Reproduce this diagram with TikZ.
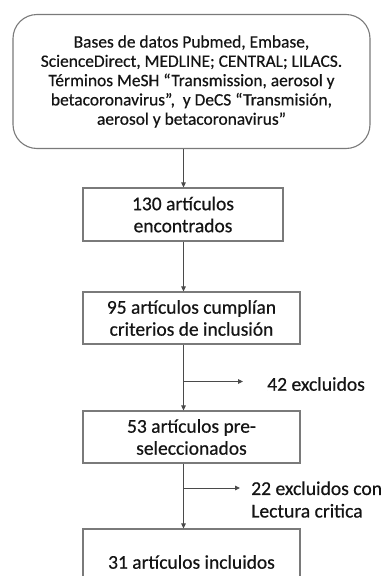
\documentclass[tikz,border=0pt]{standalone}
\usepackage{fontspec}
\setmainfont{Carlito}[FakeBold=0.5]
\usetikzlibrary{arrows.meta}
\definecolor{boxline}{HTML}{7A7A7A}
\definecolor{conline}{HTML}{4A4A4A}
\definecolor{txt}{HTML}{141414}
\begin{document}
\begin{tikzpicture}[x=1pt,y=-1pt,
  every node/.style={text=txt, inner sep=0pt},
  srcbox/.style={draw=boxline, line width=1.1pt, rounded corners=24pt, align=center,
    font=\fontsize{17.4}{19.3}\selectfont},
  stepbox/.style={draw=boxline, line width=1.1pt, align=center,
    font=\fontsize{19.5}{22}\selectfont},
  sidetext/.style={anchor=west, align=left, font=\fontsize{19.6}{22.5}\selectfont},
  arr/.style={draw=conline, line width=0.9pt, -{Triangle[length=5pt,width=4.5pt]}}]
\useasboundingbox (0,0) rectangle (387,576);
\clip (0,0) rectangle (387,576);
\fill[white] (0,0) rectangle (387,576);
\coordinate (cx) at (183.5,0);
\node[srcbox, minimum width=357pt, minimum height=134pt] (src) at (191.5,81.5)
  {Bases de datos Pubmed, Embase,\\ScienceDirect, MEDLINE; CENTRAL; LILACS.\\Términos MeSH “Transmission, aerosol y\\betacoronavirus”,~ y DeCS “Transmisión,\\aerosol y betacoronavirus”};
\node[stepbox, minimum width=200pt, minimum height=53pt] (b2) at (183,214.5)
  {130 artículos\\encontrados};
\node[stepbox, minimum width=217pt, minimum height=52pt] (b3) at (191.5,318)
  {95 artículos cumplían\\criterios de inclusión};
\node[stepbox, minimum width=217pt, minimum height=52pt] (b4) at (191.5,437)
  {53 artículos pre-\\seleccionados};
\node[stepbox, minimum width=217pt, minimum height=66pt] (b5) at (191.5,562)
  {31 artículos incluidos};
\draw[arr] (src.south -| cx) -- (b2.north -| cx);
\draw[arr] (b2.south -| cx) -- (b3.north -| cx);
\draw[arr] (b3.south -| cx) -- (b4.north -| cx);
\draw[arr] (b4.south -| cx) -- (b5.north -| cx);
\coordinate (j1) at (183.5,381.5);
\coordinate (t1) at (243,381.5);
\node[sidetext] (e1) at (267,384) {42 excluidos};
\draw[arr] (j1) -- (t1);
\coordinate (j2) at (183.5,488);
\coordinate (t2) at (240,488);
\node[sidetext] (e2) at (251,499.5) {22 excluidos con\\Lectura critica};
\draw[arr] (j2) -- (t2);
\end{tikzpicture}
\end{document}
